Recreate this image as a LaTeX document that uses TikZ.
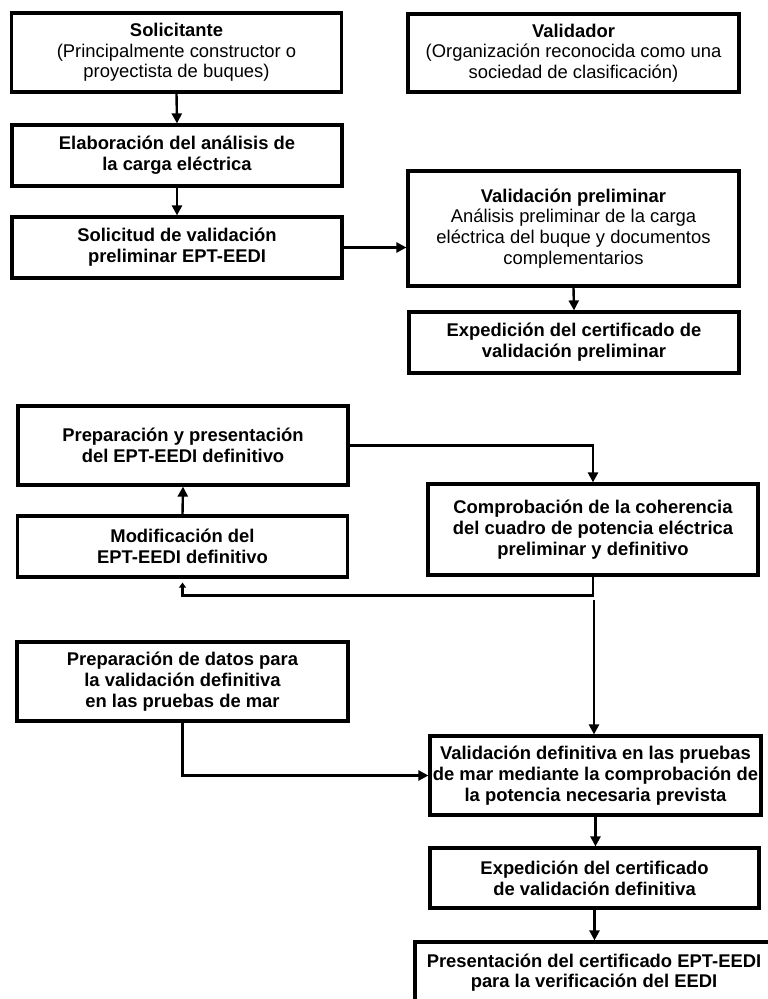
\documentclass[tikz,border=0pt]{standalone}
\usepackage{fontspec}
\setmainfont{Liberation Sans}
\usetikzlibrary{arrows.meta}

\tikzset{
  box/.style={draw, line width=3.2bp, fill=white, minimum width=330bp,
    align=center, inner sep=2bp,
    font=\fontsize{18.4bp}{20.7bp}\selectfont\bfseries},
  link/.style={line width=2.4bp, -{Triangle[length=10bp,width=10bp]}},
  backlink/.style={line width=2.4bp, -{Triangle[length=5bp,width=7bp]}},
}

\begin{document}
\begin{tikzpicture}[x=1bp, y=-1bp]
\useasboundingbox (0,0) rectangle (768,999);
\clip (0,0) rectangle (768,999);

% Upper part: applicant and validator
\node[box, minimum height=79bp] (A) at (176.5,52.5)
  {Solicitante\\\mdseries(Principalmente constructor o\\\mdseries proyectista de buques)};
\node[box, minimum width=331bp, minimum height=78bp] (V) at (573.5,53)
  {Validador\\\mdseries(Organización reconocida como una\\\mdseries sociedad de clasificación)};
\node[box, minimum height=61bp] (B) at (177,155.5)
  {Elaboración del análisis de\\la carga eléctrica};
\node[box, minimum height=61bp] (C) at (177,247.5)
  {Solicitud de validación\\preliminar EPT-EEDI};
\node[box, minimum width=331bp, minimum height=115bp] (D) at (573.5,228.5)
  {Validación preliminar\\\mdseries Análisis preliminar de la carga\\\mdseries eléctrica del buque y documentos\\\mdseries complementarios};
\node[box, minimum height=61bp] (E) at (574,342.5)
  {Expedición del certificado de\\validación preliminar};

% Middle part: definitive EPT-EEDI loop
\node[box, minimum height=79bp] (F) at (183,445.5)
  {Preparación y presentación\\del EPT-EEDI definitivo};
\node[box, minimum height=61bp] (G) at (182.5,546.5)
  {Modificación del\\EPT-EEDI definitivo};
\node[box, minimum height=91bp] (H) at (593,529.5)
  {Comprobación de la coherencia\\del cuadro de potencia eléctrica\\preliminar y definitivo};

% Lower part: sea trials and final certificate
\node[box, minimum width=331bp, minimum height=79bp] (I) at (182.5,681.5)
  {Preparación de datos para\\la validación definitiva\\en las pruebas de mar};
\node[box, minimum width=331bp, minimum height=79bp] (J) at (595.5,775.5)
  {Validación definitiva en las pruebas\\de mar mediante la comprobación de\\la potencia necesaria prevista};
\node[box, minimum width=329bp, minimum height=60bp] (K) at (594.5,878)
  {Expedición del certificado\\de validación definitiva};
\node[box, minimum width=358bp, minimum height=61bp] (L) at (594,972.5)
  {Presentación del certificado EPT-EEDI\\para la verificación del EEDI};

% Connectors
\draw[link] (A.south) -- (B.north);
\draw[link] (B.south) -- (C.north);
\draw[link] (C.east) -- (C.east -| D.west);
\draw[link] (D.south) -- (E.north);
\draw[link] (F.east) -| (H.north);
\draw[link] (G.north) -- (F.south);
\draw[backlink, shorten >=4bp] (H.south) -- ++(0,19) -| (G.south);
\coordinate (HJ) at (594,600);
\draw[link] (HJ) -- (HJ |- J.north);
\draw[link] (I.south) |- (J.west);
\draw[link] (J.south) -- (J.south |- K.north);
\draw[link] (K.south) -- (K.south |- L.north);
\end{tikzpicture}
\end{document}
